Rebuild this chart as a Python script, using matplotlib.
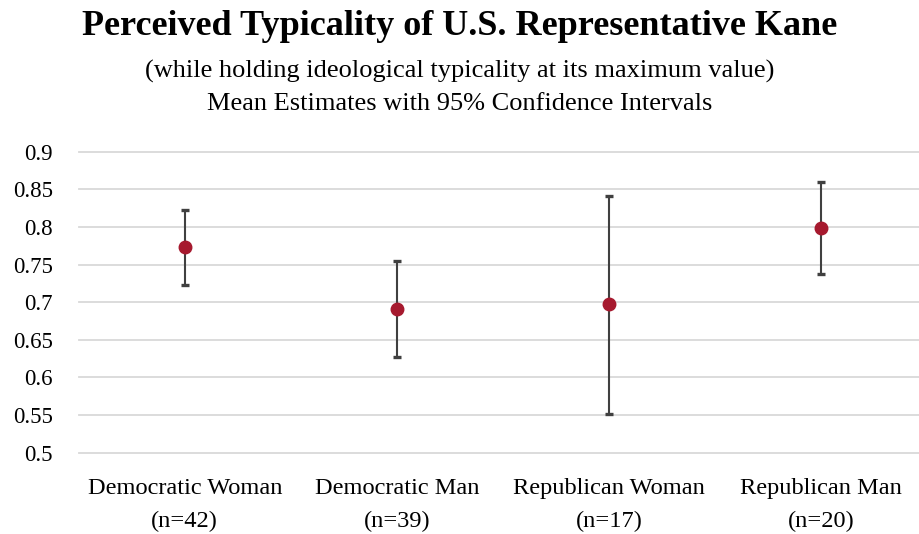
import matplotlib.pyplot as plt

plt.rcParams["font.family"] = ["Liberation Serif", "DejaVu Serif"]

categories = ["Democratic Woman\n(n=42)", "Democratic Man\n(n=39)",
              "Republican Woman\n(n=17)", "Republican Man\n(n=20)"]
means = [0.773, 0.691, 0.697, 0.799]
ci_low = [0.723, 0.627, 0.552, 0.738]
ci_high = [0.822, 0.755, 0.841, 0.860]

x = list(range(len(categories)))
err_lo = [m - lo for m, lo in zip(means, ci_low)]
err_hi = [hi - m for m, hi in zip(means, ci_high)]

fig = plt.figure(figsize=(9.19, 5.34), dpi=100)
ax = fig.add_axes([0.0856, 0.1522, 0.9144, 0.5638])

yticks = [0.5, 0.55, 0.6, 0.65, 0.7, 0.75, 0.8, 0.85, 0.9]
for y in yticks:
    ax.axhline(y, color="#d9d9d9", linewidth=1.3, zorder=0, clip_on=False)

ax.errorbar(x, means, yerr=[err_lo, err_hi], fmt="none", ecolor="#404040",
            elinewidth=1.5, capsize=3, capthick=2.4, zorder=2)
ax.plot(x, means, "o", color="#a6192e", markersize=9, zorder=3)

ax.set_xlim(-0.5, 3.46)
ax.set_ylim(0.5, 0.9)
ax.set_yticks(yticks)
ax.set_yticklabels(["0.5", "0.55", "0.6", "0.65", "0.7", "0.75", "0.8", "0.85", "0.9"])
ax.set_xticks(x)
ax.set_xticklabels(categories, linespacing=1.7)
ax.tick_params(axis="y", length=0, pad=18.5, labelsize=16.5)
ax.tick_params(axis="x", length=0, pad=18.3, labelsize=17.6)
for s in ax.spines.values():
    s.set_visible(False)

fig.text(0.5, 0.950, "Perceived Typicality of U.S. Representative Kane",
         ha="center", va="center", fontsize=26, fontweight="bold")
fig.text(0.5, 0.8655, "(while holding ideological typicality at its maximum value)",
         ha="center", va="center", fontsize=19)
fig.text(0.5, 0.806, "Mean Estimates with 95% Confidence Intervals",
         ha="center", va="center", fontsize=19)

fig.savefig("out.png", dpi=100)
